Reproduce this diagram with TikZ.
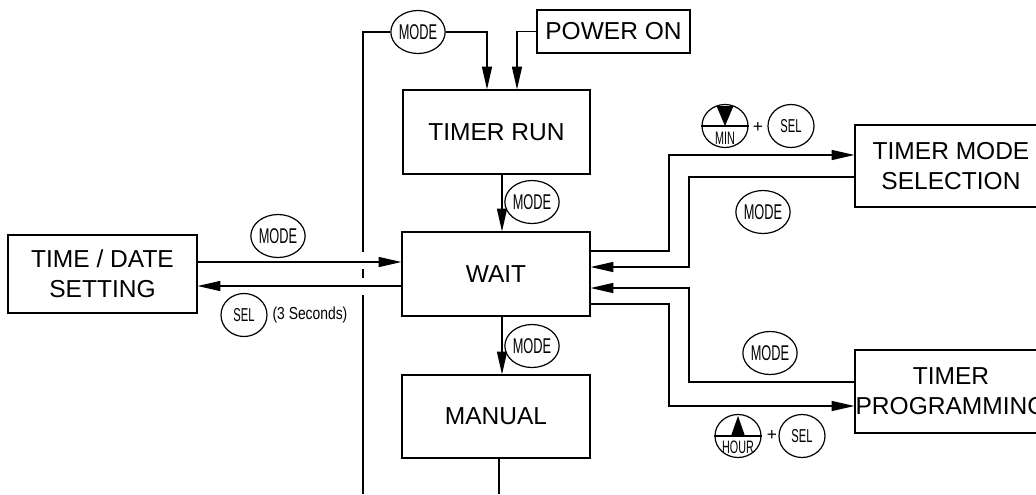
\documentclass[tikz,border=0pt]{standalone}
\usepackage{fontspec}
\setmainfont{Liberation Sans}
\newfontfamily\cfont[FakeStretch=0.6]{Liberation Sans}
\newfontfamily\sfont[FakeStretch=0.8]{Liberation Sans}
\usetikzlibrary{arrows.meta,shapes.geometric}
\newdimen\pxu \pxu=0.75pt
\begin{document}
\begin{tikzpicture}[x=0.75pt,y=-0.75pt, line width=0.9pt,
  box/.style={draw, rectangle, inner sep=0pt, align=center, font=\fontsize{18.4}{22.5}\selectfont},
  btn/.style={draw, ellipse, minimum width=46\pxu, minimum height=43\pxu, inner sep=0pt},
  modebtn/.style={btn, font=\cfont\fontsize{16}{16}\selectfont},
  selbtn/.style={btn, font=\cfont\fontsize{14}{14}\selectfont},
  keytxt/.style={inner sep=0pt, font=\cfont\fontsize{13.5}{13.5}\selectfont},
  plustxt/.style={inner sep=0pt, font=\fontsize{13}{13}\selectfont},
  arr/.style={-{Triangle[length=17pt,width=7.5pt]}},
]
\useasboundingbox (0,0) rectangle (1036,494);
% boxes
\node[box, minimum width=187\pxu, minimum height=84\pxu] (run) at (496.5,132) {TIMER RUN};
\node[box, minimum width=188\pxu, minimum height=84\pxu] (wait) at (496,274) {WAIT};
\node[box, minimum width=188\pxu, minimum height=83\pxu] (manual) at (496,416.5) {MANUAL};
\node[box, minimum width=189\pxu, minimum height=78\pxu] (td) at (102.5,274) {TIME / DATE\\SETTING};
\node[box, minimum width=153\pxu, minimum height=43\pxu] (pwr) at (613.5,31.5) {POWER ON};
\node[box, minimum width=192\pxu, minimum height=82\pxu] (tms) at (951,166) {TIMER MODE\\SELECTION};
\node[box, minimum width=192\pxu, minimum height=83\pxu] (tp) at (951,391.5) {TIMER\\PROGRAMMING};
% buttons
\node[modebtn] (mtop) at (418,32) {MODE};
\node[modebtn] (mrun) at (532,202) {MODE};
\node[modebtn] (mwait) at (532,346) {MODE};
\node[modebtn] (mtd) at (278,236) {MODE};
\node[selbtn] (seltd) at (244,315) {SEL};
\node[inner sep=0pt, font=\sfont\fontsize{13}{13}\selectfont] (sec) at (310,315) {(3 Seconds)};
\node[modebtn] (mtms) at (763,212) {MODE};
\node[modebtn] (mtp) at (770,353) {MODE};
\node[btn] (min) at (725,126) {};
\node[plustxt] (plus1) at (758,127) {+};
\node[selbtn] (selmin) at (791,126) {SEL};
\node[btn] (hour) at (738,436) {};
\node[plustxt] (plus2) at (772,435) {+};
\node[selbtn] (selhour) at (802,436) {SEL};
\draw (min.west) -- (min.east);
\fill (716.5,106) -- (733.5,106) -- (725,126) -- cycle;
\node[keytxt] (mintxt) at (725,138) {MIN};
\draw (hour.west) -- (hour.east);
\fill (731,436) -- (745,436) -- (738,416) -- cycle;
\node[keytxt] (hourtxt) at (738,447) {HOUR};
% connectors
\draw (363,494) -- (363,295);
\draw (363,278) -- (363,269);
\draw (363,252) -- (363,32) -- (mtop.west);
\draw[arr] (mtop.east) -- (487,32) -- (run.north -| 487,0);
\draw[arr] (pwr.west) -- (517,31.5) -- (run.north -| 517,0);
\draw[arr] (run.south -| 502,0) -- (wait.north -| 502,0);
\draw[arr] (wait.south -| 502,0) -- (manual.north -| 502,0);
\draw (manual.south -| 499,0) -- (499,494);
\draw[arr] (td.east |- 0,262) -- (wait.west |- 0,262);
\draw[arr] (wait.west |- 0,286) -- (td.east |- 0,286);
\draw[arr] (wait.east |- 0,251) -- (669,251) -- (669,155) -- (tms.west |- 0,155);
\draw[arr] (tms.west |- 0,177) -- (689,177) -- (689,267) -- (wait.east |- 0,267);
\draw[arr] (tp.west |- 0,382) -- (689,382) -- (689,288) -- (wait.east |- 0,288);
\draw[arr] (wait.east |- 0,304) -- (669,304) -- (669,406) -- (tp.west |- 0,406);
\end{tikzpicture}
\end{document}
